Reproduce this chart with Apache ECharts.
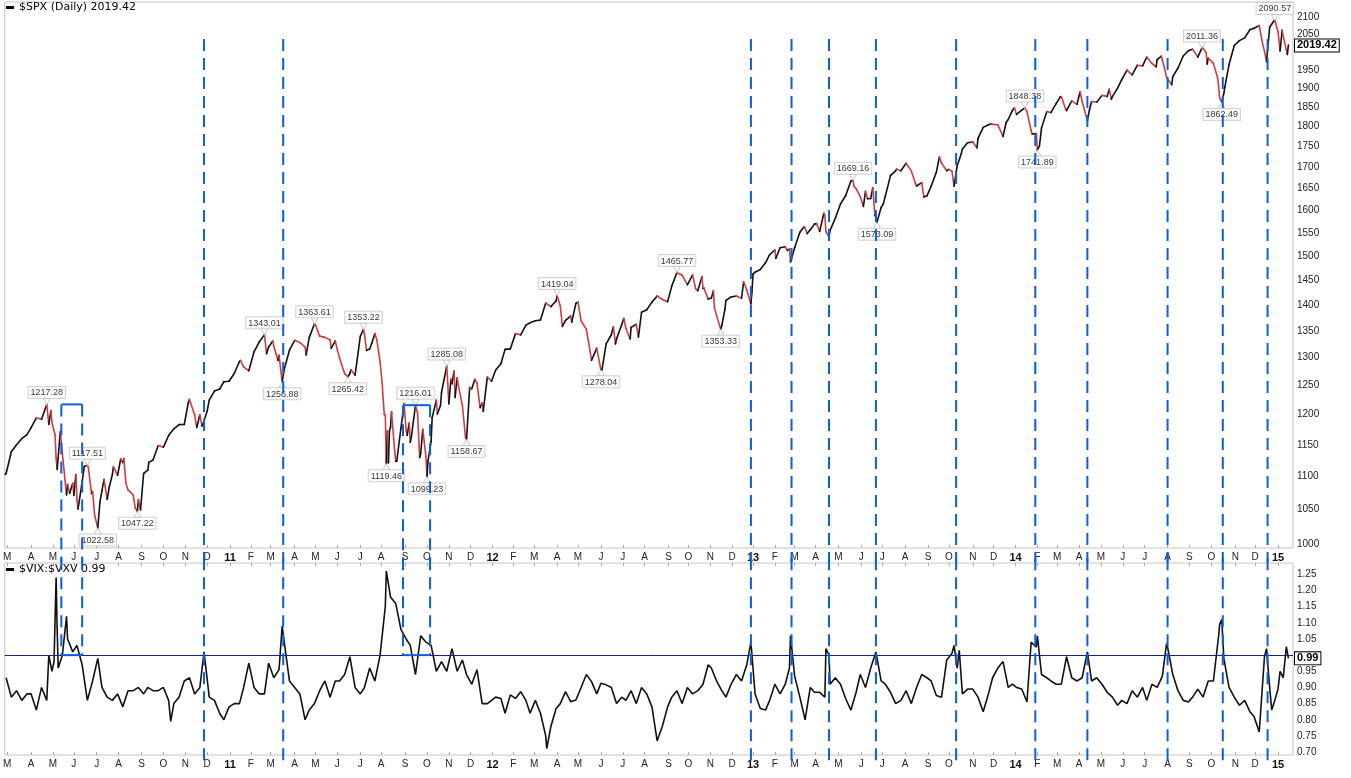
<!DOCTYPE html>
<html>
<head>
<meta charset="utf-8">
<title>$SPX (Daily) with $VIX:$VXV</title>
<script src="https://cdn.jsdelivr.net/npm/echarts@6/dist/echarts.min.js"></script>
<style>
  html, body { margin: 0; padding: 0; background: #ffffff; }
  #chart { width: 1351px; height: 778px; }
</style>
</head>
<body>
<div id="chart"></div>
<script>
// ------------------------------------------------------------------
// DATA
// ------------------------------------------------------------------
const firstSession = '2010-02-25';
const lastSession  = '2015-01-16';
const firstFriday  = '2010-02-26';          // weekly samples: every Friday (or the session before)

const marketHolidays = [
  '2010-04-02','2010-05-31','2010-07-05','2010-09-06','2010-11-25','2010-12-24',
  '2011-01-17','2011-02-21','2011-04-22','2011-05-30','2011-07-04','2011-09-05','2011-11-24','2011-12-26',
  '2012-01-02','2012-01-16','2012-02-20','2012-04-06','2012-05-28','2012-07-04','2012-09-03','2012-10-29','2012-10-30','2012-11-22','2012-12-25',
  '2013-01-01','2013-01-21','2013-02-18','2013-03-29','2013-05-27','2013-07-04','2013-09-02','2013-11-28','2013-12-25',
  '2014-01-01','2014-01-20','2014-02-17','2014-04-18','2014-05-26','2014-07-04','2014-09-01','2014-11-27','2014-12-25',
  '2015-01-01'
];

// $SPX weekly closes
const spx2010 = [1104.5,1138.7,1150.0,1159.9,1166.6,1178.1,1194.4,1192.1,1217.3,1186.7,1110.9,1135.7,1087.7,1089.4,1064.9,1091.6,1117.5,1076.8,1022.6,1078.0,1064.9,1102.7,1101.6,1121.6,1079.3,1071.7,1064.6,1104.5,1109.6,1125.6,1148.7,1146.2,1165.2,1176.2,1183.1,1183.3,1225.9,1199.2,1199.7,1189.4,1224.7,1240.4,1243.9,1256.8,1257.6];
const spx2011 = [1271.5,1293.2,1283.4,1276.3,1310.9,1329.2,1343.0,1319.9,1321.2,1304.3,1279.2,1313.8,1332.4,1328.2,1319.7,1337.4,1363.6,1340.2,1337.8,1333.3,1331.1,1300.2,1271.0,1271.5,1268.5,1339.7,1343.8,1316.1,1345.0,1292.3,1199.4,1178.8,1123.5,1176.8,1174.0,1154.2,1216.0,1136.4,1131.4,1155.5,1224.6,1238.3,1285.1,1253.2,1263.9,1215.7,1158.7,1244.3,1255.2,1219.7,1265.3,1257.6];
const spx2012 = [1277.8,1289.1,1315.4,1316.3,1344.9,1342.6,1361.2,1365.7,1369.6,1370.9,1404.2,1397.1,1408.5,1398.1,1370.3,1378.5,1403.4,1369.1,1353.4,1295.2,1317.8,1278.0,1325.7,1342.8,1335.0,1362.2,1354.7,1356.8,1362.7,1386.0,1391.0,1405.9,1418.2,1411.1,1406.6,1437.9,1465.8,1460.2,1440.7,1460.9,1428.6,1433.2,1411.9,1414.2,1379.9,1359.9,1409.2,1416.2,1418.1,1413.6,1430.2,1402.4];
const spx2013 = [1466.5,1472.1,1486.0,1503.0,1513.2,1517.9,1519.8,1515.6,1518.2,1551.2,1560.7,1556.9,1569.2,1553.3,1588.9,1555.3,1582.2,1614.4,1633.7,1667.5,1649.6,1630.7,1643.4,1626.7,1592.4,1606.3,1631.9,1680.2,1692.1,1691.7,1709.7,1691.4,1655.8,1663.5,1633.0,1655.2,1688.0,1709.9,1691.8,1690.5,1703.2,1744.5,1759.8,1761.6,1770.6,1798.2,1804.8,1805.8,1805.1,1775.3,1818.3,1841.4];
const spx2014 = [1831.4,1842.4,1838.7,1790.3,1782.6,1797.0,1838.6,1836.2,1859.5,1878.0,1841.1,1866.5,1857.6,1865.1,1815.7,1864.9,1863.4,1881.1,1878.5,1877.9,1900.5,1923.6,1949.4,1936.2,1962.9,1961.0,1985.4,1967.6,1978.2,1978.3,1925.2,1931.6,1955.1,1988.4,2003.4,2007.7,1985.5,2010.4,1982.9,1967.9,1906.1,1886.8,1964.6,2018.1,2031.9,2039.8,2063.5,2067.6,2075.4,2002.3,2070.7,2088.8];
const spx2015 = [2058.2,2044.8,2019.42];

// extra daily closes between the weekly samples
const spxDailyExtras = [
  ['2010-02-25',1102.94],['2010-04-27',1183.71],['2010-04-29',1206.78],['2010-05-05',1165.87],['2010-05-06',1128.15],
  ['2010-05-12',1171.67],['2010-05-20',1071.59],['2010-05-25',1074.03],['2010-06-01',1070.71],['2010-06-03',1102.83],
  ['2010-06-07',1050.47],['2010-06-15',1115.23],['2010-06-21',1113.20],['2010-06-24',1073.69],['2010-06-29',1041.24],
  ['2010-07-07',1060.27],['2010-07-13',1095.34],['2010-07-20',1083.48],['2010-07-26',1115.01],['2010-08-04',1127.24],
  ['2010-08-09',1127.79],['2010-08-11',1089.47],['2010-08-24',1051.87],['2010-08-31',1049.33],['2010-09-13',1121.90],
  ['2010-11-04',1221.06],['2010-11-16',1178.34],['2010-11-23',1180.73],['2010-12-01',1206.07],
  ['2011-01-18',1295.02],['2011-02-23',1307.40],['2011-03-03',1330.97],['2011-03-10',1295.11],['2011-04-18',1305.14],
  ['2011-05-02',1361.22],['2011-05-23',1317.37],['2011-06-01',1314.55],['2011-06-20',1278.36],['2011-07-12',1313.64],
  ['2011-07-19',1326.73],['2011-07-26',1331.94],['2011-08-02',1254.05],['2011-08-04',1200.07],['2011-08-09',1172.53],
  ['2011-08-10',1120.76],['2011-08-11',1172.64],['2011-08-15',1204.49],['2011-08-18',1140.65],['2011-08-22',1123.82],
  ['2011-08-31',1218.89],['2011-09-06',1165.24],['2011-09-08',1185.90],['2011-09-12',1162.27],['2011-09-20',1202.09],
  ['2011-09-22',1129.56],['2011-09-27',1175.38],['2011-10-04',1123.95],['2011-10-10',1194.89],['2011-10-17',1200.86],
  ['2011-10-20',1215.39],['2011-10-31',1253.30],['2011-11-01',1218.28],['2011-11-03',1261.15],['2011-11-08',1275.92],
  ['2011-11-09',1229.10],['2011-11-14',1251.78],['2011-11-23',1161.79],['2011-11-30',1246.96],['2011-12-07',1261.01],
  ['2011-12-14',1211.82],['2011-12-19',1205.35],
  ['2012-04-10',1358.59],['2012-04-23',1366.94],['2012-05-01',1405.82],['2012-05-15',1330.66],['2012-06-04',1278.18],
  ['2012-06-19',1357.98],['2012-06-21',1325.51],['2012-07-03',1374.02],['2012-07-12',1334.76],['2012-07-24',1338.31],
  ['2012-10-10',1432.56],['2012-10-18',1457.34],['2012-10-22',1433.82],['2012-11-06',1428.39],['2012-11-07',1394.53],
  ['2012-11-21',1391.03],['2012-12-18',1446.79],['2012-12-31',1426.19],
  ['2013-01-02',1462.42],['2013-02-04',1495.71],['2013-02-20',1511.95],['2013-02-25',1487.85],['2013-03-14',1563.23],
  ['2013-03-19',1548.34],['2013-04-02',1570.25],['2013-04-11',1593.37],['2013-04-15',1552.36],['2013-04-18',1541.61],
  ['2013-05-22',1655.35],['2013-06-05',1608.90],['2013-06-11',1626.13],['2013-06-18',1651.81],['2013-06-20',1588.19],
  ['2013-07-02',1614.08],['2013-07-22',1695.53],['2013-08-15',1661.32],['2013-08-27',1630.48],['2013-09-18',1725.52],
  ['2013-10-01',1695.00],['2013-10-08',1655.45],['2013-10-17',1733.15],['2013-11-07',1747.15],['2013-11-27',1807.23],
  ['2013-12-18',1810.65],['2013-12-31',1848.36],
  ['2014-01-27',1781.56],['2014-02-05',1751.64],['2014-03-06',1877.03],['2014-03-13',1846.34],['2014-04-02',1890.90],
  ['2014-04-15',1842.98],['2014-05-13',1897.45],['2014-05-15',1870.85],['2014-07-17',1958.12],['2014-07-24',1987.98],
  ['2014-07-31',1930.67],['2014-08-07',1909.57],['2014-09-24',1998.30],['2014-09-25',1965.99],['2014-10-09',1928.21],
  ['2014-10-13',1874.74],['2014-10-20',1904.01],['2014-12-10',2026.14],['2014-12-16',1972.74],
  ['2015-01-06',2002.61],['2015-01-08',2062.14],['2015-01-15',1992.67]
];

// labelled swing highs / lows
const spxSwings = [
  ['2010-04-23',1217.28,'top'],['2010-06-18',1117.51,'top'],['2010-07-02',1022.58,'bottom'],['2010-08-26',1047.22,'bottom'],
  ['2011-02-18',1343.01,'top'],['2011-03-16',1256.88,'bottom'],['2011-04-29',1363.61,'top'],['2011-06-15',1265.42,'bottom'],
  ['2011-07-07',1353.22,'top'],['2011-08-08',1119.46,'bottom'],['2011-09-16',1216.01,'top'],['2011-10-03',1099.23,'bottom'],
  ['2011-10-28',1285.08,'top'],['2011-11-25',1158.67,'bottom'],['2012-04-02',1419.04,'top'],['2012-06-01',1278.04,'bottom'],
  ['2012-09-14',1465.77,'top'],['2012-11-15',1353.33,'bottom'],['2013-05-21',1669.16,'top'],['2013-06-24',1573.09,'bottom'],
  ['2014-01-15',1848.38,'top'],['2014-02-03',1741.89,'bottom'],['2014-09-18',2011.36,'top'],['2014-10-15',1862.49,'bottom'],
  ['2014-12-29',2090.57,'top']
];

// $VIX:$VXV weekly ratio
const vix2010 = [0.93,0.87,0.89,0.86,0.88,0.88,0.83,0.90,0.86,0.95,1.08,1.00,1.05,1.01,1.03,0.97,0.86,0.92,0.99,0.90,0.87,0.86,0.88,0.84,0.89,0.89,0.90,0.88,0.90,0.89,0.89,0.90,0.86,0.85,0.87,0.92,0.93,0.88,0.90,1.01,0.87,0.86,0.82,0.80,0.84];
const vix2011 = [0.85,0.85,0.90,0.975,0.90,0.88,0.88,0.975,0.93,0.955,1.04,0.92,0.90,0.88,0.80,0.83,0.85,0.89,0.92,0.87,0.92,0.92,0.94,0.995,0.90,0.88,0.90,0.96,0.92,1.00,1.15,1.18,1.16,1.08,1.05,1.03,0.94,1.06,1.04,1.03,0.95,0.98,0.95,1.02,0.95,0.985,0.94,0.91,0.955,0.85,0.85,0.86];
const vix2012 = [0.87,0.866,0.82,0.877,0.866,0.887,0.86,0.82,0.86,0.82,0.75,0.78,0.835,0.85,0.887,0.856,0.861,0.90,0.94,0.918,0.88,0.913,0.908,0.90,0.85,0.87,0.86,0.89,0.85,0.90,0.88,0.84,0.735,0.78,0.84,0.87,0.89,0.85,0.90,0.88,0.89,0.91,0.97,0.96,0.92,0.89,0.87,0.91,0.94,0.92,0.97,1.04];
const vix2013 = [0.88,0.835,0.83,0.86,0.91,0.88,0.91,0.96,0.935,0.87,0.80,0.90,0.885,0.885,0.87,0.91,0.93,0.91,0.865,0.83,0.885,0.94,0.90,0.96,1.01,0.92,0.91,0.885,0.85,0.86,0.89,0.85,0.90,0.94,0.93,0.92,0.875,0.87,0.985,1.005,0.96,0.88,0.895,0.895,0.87,0.825,0.88,0.93,0.96,0.98,0.90,0.91];
const vix2014 = [0.90,0.895,0.855,1.04,1.025,0.94,0.93,0.92,0.91,0.91,0.995,0.93,0.92,0.93,1.01,0.92,0.93,0.91,0.885,0.87,0.845,0.86,0.85,0.89,0.87,0.90,0.86,0.91,0.90,0.935,1.025,0.94,0.89,0.86,0.855,0.87,0.895,0.87,0.92,0.92,1.06,0.99,0.90,0.87,0.845,0.86,0.825,0.81,0.762,0.995,0.90,0.85];
const vix2015 = [0.895,0.93,0.99];

// daily spikes / dips of the ratio
const vixDailyExtras = [
  ['2010-04-27',1.00],['2010-05-04',0.98],['2010-05-06',1.24],['2010-05-10',0.96],['2010-05-20',1.12],['2010-10-12',0.795],
  ['2011-03-16',1.09],['2011-08-08',1.26],['2012-03-19',0.711],['2013-02-25',1.06],['2013-04-15',1.02],['2013-04-18',1.00],
  ['2013-10-08',1.03],['2013-10-15',1.015],['2014-02-03',1.06],['2014-07-31',1.036],['2014-10-13',1.095],['2014-10-15',1.11],
  ['2014-12-16',1.02],['2014-12-23',0.83],['2015-01-06',0.95],['2015-01-14',1.026]
];

// hand-drawn annotations
const signalDates = ['2010-11-26','2011-03-17','2012-12-28','2013-02-26','2013-04-18','2013-06-21','2013-10-10','2014-01-30','2014-04-11','2014-08-01','2014-10-16','2014-12-17'];
const signalBoxes = [ ['2010-05-13','2010-06-11',1217.28], ['2011-08-30','2011-10-06',1216.01] ];
const signalTopLevel = 2037;                 // $SPX level where the dashed lines start
const signalReach = { price: 975, ratioTop: 1.30, ratioBottom: 0.66 };  // lines run across the gap between panes
const ratioThreshold = 1.00;

// tick labels
const spxTicks = [1000,1050,1100,1150,1200,1250,1300,1350,1400,1450,1500,1550,1600,1650,1700,1750,1800,1850,1900,1950,2000,2050,2100];
const ratioTicks = [0.70,0.75,0.80,0.85,0.90,0.95,1.00,1.05,1.10,1.15,1.20,1.25];
const monthLetters = ['J','F','M','A','M','J','J','A','S','O','N','D'];

const lastSpx = 2019.42, lastRatio = 0.99;
const spxWindow = [994.4, 2145.6];           // visible price range (log scale)
const ratioWindow = [0.691, 1.285];
const sessionWindow = [-0.3, 1236.4];

// ------------------------------------------------------------------
// BUILD
// ------------------------------------------------------------------
const DAY = 864e5;
const iso = t => new Date(t).toISOString().slice(0, 10);
const holidaySet = new Set(marketHolidays);
const tradingDays = [];
for (let t = Date.parse(firstSession); t <= Date.parse(lastSession); t += DAY) {
  const wd = new Date(t).getUTCDay();
  const s = iso(t);
  if (wd !== 0 && wd !== 6 && !holidaySet.has(s)) tradingDays.push(s);
}
const sessionIndex = new Map(tradingDays.map((s, i) => [s, i]));
function idx(s) {
  let t = Date.parse(s);
  while (!sessionIndex.has(iso(t))) t -= DAY;
  return sessionIndex.get(iso(t));
}
const weeklyIdx = k => idx(iso(Date.parse(firstFriday) + k * 7 * DAY));
function mergeSeries(weekly, extras) {
  const m = new Map();
  weekly.forEach((v, k) => m.set(weeklyIdx(k), v));
  extras.forEach(e => m.set(idx(e[0]), e[1]));
  return [...m.entries()].sort((a, b) => a[0] - b[0]);
}
const spxWeekly = [].concat(spx2010, spx2011, spx2012, spx2013, spx2014, spx2015);
const ratioWeekly = [].concat(vix2010, vix2011, vix2012, vix2013, vix2014, vix2015);
const spxLine = mergeSeries(spxWeekly, spxDailyExtras.concat(spxSwings));
const ratioLine = mergeSeries(ratioWeekly, vixDailyExtras);

const spxSegments = [];
for (let i = 1; i < spxLine.length; i++) {
  spxSegments.push([spxLine[i - 1][0], Math.log(spxLine[i - 1][1]), spxLine[i][0], Math.log(spxLine[i][1])]);
}

const monthStarts = [];
for (let i = 1; i < tradingDays.length; i++) {
  if (tradingDays[i].slice(5, 7) !== tradingDays[i - 1].slice(5, 7)) monthStarts.push(i);
}
function monthLabel(v) {
  const d = tradingDays[Math.round(v)];
  const m = +d.slice(5, 7) - 1;
  return m === 0 ? '{y|' + d.slice(2, 4) + '}' : monthLetters[m];
}

const BLUE = '#0b5fd9';
const DASH = [12, 7];
const axisFont = { fontFamily: 'Liberation Sans, Arial, sans-serif', fontSize: 10, color: '#222' };
const boxLabel = {
  show: true, position: 'end', distance: 2,
  fontFamily: 'Liberation Sans, Arial, sans-serif', fontSize: 11, fontWeight: 'bold', color: '#000',
  backgroundColor: '#fff', borderColor: '#000', borderWidth: 1, padding: [1, 2, 0, 2]
};

// annotation data: [kind, index1, index2, level]
const priceNotes = signalDates.map(d => [0, idx(d), idx(d), Math.log(signalTopLevel)])
  .concat(signalBoxes.map(b => [1, idx(b[0]), idx(b[1]), Math.log(b[2])]));
const ratioNotes = signalDates.map(d => [0, idx(d), idx(d), signalReach.ratioBottom])
  .concat(signalBoxes.map(b => [1, idx(b[0]), idx(b[1]), ratioThreshold]));

function vline(a, b, dashed) {
  return { type: 'line', shape: { x1: a[0], y1: a[1], x2: b[0], y2: b[1] },
           style: { stroke: BLUE, lineWidth: 2, lineDash: dashed ? DASH : null, lineCap: 'butt' } };
}
function renderPriceNote(params, api) {
  const kind = api.value(0), i1 = api.value(1), i2 = api.value(2), lv = api.value(3);
  const low = Math.log(signalReach.price);
  if (kind === 0) return vline(api.coord([i1, lv]), api.coord([i1, low]), true);
  return { type: 'group', children: [
    vline(api.coord([i1, lv]), api.coord([i2, lv]), false),
    vline(api.coord([i1, lv]), api.coord([i1, low]), true),
    vline(api.coord([i2, lv]), api.coord([i2, low]), true)
  ] };
}
function renderRatioNote(params, api) {
  const kind = api.value(0), i1 = api.value(1), i2 = api.value(2), lv = api.value(3);
  const top = signalReach.ratioTop;
  if (kind === 0) return vline(api.coord([i1, top]), api.coord([i1, lv]), true);
  return { type: 'group', children: [
    vline(api.coord([i1, lv]), api.coord([i2, lv]), false),
    vline(api.coord([i1, top]), api.coord([i1, lv]), true),
    vline(api.coord([i2, top]), api.coord([i2, lv]), true)
  ] };
}

const swingItems = spxSwings.map(s => {
  const top = s[2] === 'top';
  return {
    value: [idx(s[0]), Math.log(s[1])],
    symbol: top ? 'path://M0,0L10,0L5,8Z' : 'path://M5,0L10,8L0,8Z',
    symbolSize: [7, 6],
    symbolOffset: [0, top ? -3 : 3],
    label: { position: top ? 'top' : 'bottom' }
  };
});

const spxName = '$SPX (Daily) ' + lastSpx.toFixed(2);
const ratioName = '$VIX:$VXV ' + lastRatio.toFixed(2);

function monthAxis(gridIndex, position, withLabels) {
  return {
    type: 'value', gridIndex: gridIndex, position: position,
    min: sessionWindow[0], max: sessionWindow[1],
    axisLine: { show: false }, splitLine: { show: false },
    axisTick: { show: true, inside: true, length: 3, customValues: monthStarts, lineStyle: { color: '#a8a8a8' } },
    axisLabel: Object.assign({
      show: withLabels, customValues: monthStarts, formatter: monthLabel, margin: 4,
      rich: { y: { fontFamily: 'Liberation Sans, Arial, sans-serif', fontSize: 11, fontWeight: 'bold', color: '#111' } }
    }, axisFont)
  };
}

const legendText = { fontFamily: 'DejaVu Sans, Verdana, sans-serif', fontSize: 11, color: '#000' };
const option = {
  animation: false,
  backgroundColor: '#ffffff',
  legend: [
    { left: 6, top: 2, padding: 0, itemWidth: 8, itemHeight: 3, itemGap: 4, selectedMode: false,
      data: [{ name: spxName, icon: 'rect', itemStyle: { color: '#000' } }], textStyle: legendText },
    { left: 6, top: 564, padding: 0, itemWidth: 8, itemHeight: 3, itemGap: 4, selectedMode: false,
      data: [{ name: ratioName, icon: 'rect', itemStyle: { color: '#000' } }], textStyle: legendText }
  ],
  grid: [
    { left: 4, top: 2, width: 1289, height: 546, show: true, borderColor: '#c4c4c4', borderWidth: 1, backgroundColor: 'transparent' },
    { left: 4, top: 563, width: 1289, height: 192, show: true, borderColor: '#c4c4c4', borderWidth: 1, backgroundColor: 'transparent' }
  ],
  xAxis: [ monthAxis(0, 'bottom', true), monthAxis(1, 'bottom', true), monthAxis(1, 'top', false) ],
  yAxis: [
    {
      type: 'value', gridIndex: 0, position: 'right',
      min: Math.log(spxWindow[0]), max: Math.log(spxWindow[1]),
      axisLine: { show: false }, axisTick: { show: false }, splitLine: { show: false },
      axisLabel: Object.assign({
        margin: 4,
        customValues: spxTicks.filter(t => Math.abs(Math.log(t / lastSpx)) > 0.012).map(t => Math.log(t)),
        formatter: v => String(Math.round(Math.exp(v)))
      }, axisFont)
    },
    {
      type: 'value', gridIndex: 1, position: 'right',
      min: ratioWindow[0], max: ratioWindow[1],
      axisLine: { show: false }, axisTick: { show: false }, splitLine: { show: false },
      axisLabel: Object.assign({
        margin: 4,
        customValues: ratioTicks.filter(t => Math.abs(t - lastRatio) > 0.026),
        formatter: v => v.toFixed(2)
      }, axisFont)
    }
  ],
  series: [
    {
      name: spxName, type: 'custom', xAxisIndex: 0, yAxisIndex: 0, silent: true, z: 3,
      itemStyle: { color: '#000' },
      encode: { x: [0, 2], y: [1, 3] },
      data: spxSegments,
      renderItem: function (params, api) {
        const a = api.coord([api.value(0), api.value(1)]);
        const b = api.coord([api.value(2), api.value(3)]);
        const up = api.value(3) >= api.value(1);
        return {
          type: 'line',
          shape: { x1: a[0], y1: a[1], x2: b[0], y2: b[1] },
          style: { stroke: up ? '#111111' : '#d43b3f', lineWidth: 1.6, lineCap: 'round' }
        };
      }
    },
    {
      name: 'swings', type: 'scatter', xAxisIndex: 0, yAxisIndex: 0, silent: true, z: 4,
      data: swingItems,
      itemStyle: { color: '#ffffff', borderColor: '#c2c2c2', borderWidth: 1 },
      label: {
        show: true, distance: 0,
        formatter: p => spxSwings[p.dataIndex][1].toFixed(2),
        fontFamily: 'Liberation Sans, Arial, sans-serif', fontSize: 9, lineHeight: 10, color: '#000',
        backgroundColor: '#ffffff', borderColor: '#c8c8c8', borderWidth: 1, padding: [1, 2, 0, 2]
      },
      markLine: {
        silent: true, symbol: ['none', 'none'], label: { show: false },
        data: [{ yAxis: Math.log(lastSpx), lineStyle: { color: 'rgba(0,0,0,0)', width: 0 },
                 label: Object.assign({ formatter: lastSpx.toFixed(2) }, boxLabel) }]
      }
    },
    {
      name: 'price notes', type: 'custom', xAxisIndex: 0, yAxisIndex: 0, silent: true, z: 6, clip: false,
      encode: { x: [1, 2], y: 3 },
      data: priceNotes, renderItem: renderPriceNote
    },
    {
      name: ratioName, type: 'line', xAxisIndex: 1, yAxisIndex: 1, silent: true, z: 3,
      data: ratioLine, showSymbol: false, symbol: 'none',
      itemStyle: { color: '#000' },
      lineStyle: { color: '#111111', width: 1.6 },
      markLine: {
        silent: true, symbol: ['none', 'none'], label: { show: false },
        data: [
          { yAxis: ratioThreshold, lineStyle: { color: '#1b2470', width: 1, type: 'solid' } },
          { yAxis: lastRatio, lineStyle: { color: 'rgba(0,0,0,0)', width: 0 },
            label: Object.assign({ formatter: lastRatio.toFixed(2) }, boxLabel) }
        ]
      }
    },
    {
      name: 'ratio notes', type: 'custom', xAxisIndex: 1, yAxisIndex: 1, silent: true, z: 6, clip: false,
      encode: { x: [1, 2], y: 3 },
      data: ratioNotes, renderItem: renderRatioNote
    }
  ]
};

const chart = echarts.init(document.getElementById('chart'), null, { renderer: 'canvas' });
chart.setOption(option);
</script>
</body>
</html>
